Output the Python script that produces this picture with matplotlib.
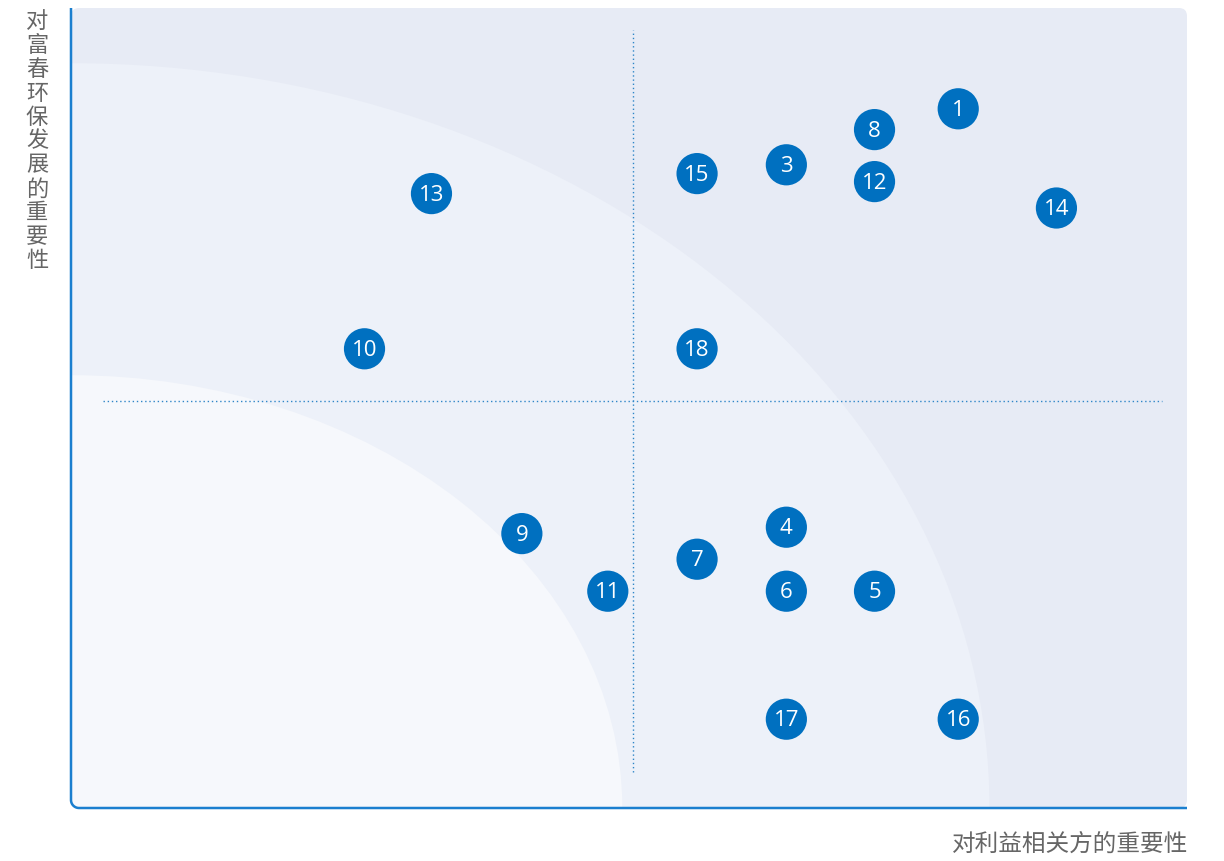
import numpy as np
import matplotlib.pyplot as plt
from matplotlib.patches import FancyBboxPatch, Ellipse

plt.rcParams['font.family'] = ['Noto Sans CJK SC', 'DejaVu Sans']

# issue numbers and their positions (0-100 scale)
labels = ['1', '8', '3', '12', '15', '14', '13', '10', '18',
          '9', '11', '7', '4', '6', '5', '17', '16']
x_vals = [79.5, 72.0, 64.1, 72.0, 56.1, 88.3, 32.3, 26.3, 56.1,
          40.4, 48.1, 56.1, 64.1, 64.1, 72.0, 64.1, 79.5]
y_vals = [87.4, 84.8, 80.4, 78.3, 79.3, 75.0, 76.8, 57.4, 57.4,
          34.3, 27.1, 31.1, 35.1, 27.1, 27.1, 11.1, 11.1]

ylabel = '对富春环保发展的重要性'
xlabel = '对利益相关方的重要性'

fig = plt.figure(figsize=(12.24, 8.61), dpi=100)
ax = fig.add_axes([71/1224, 53/861, 1116/1224, 800/861])
ax.set_xlim(0, 100)
ax.set_ylim(0, 100)
ax.axis('off')

# rounded background
rx = 0.72   # corner radius in x units (8 px)
asp = 1.0 / rx
bg = FancyBboxPatch((0, 0), 100, 100, boxstyle='round,pad=0,rounding_size=%.2f' % rx,
                    mutation_aspect=asp, facecolor='#e7ebf5', edgecolor='none', zorder=0)
ax.add_patch(bg)

# zones
outer = Ellipse((0, 0), 2*82.3, 2*93.1, facecolor='#edf1f9', edgecolor='none', zorder=1)
inner = Ellipse((0, 0), 2*49.4, 2*54.1, facecolor='#f6f8fc', edgecolor='none', zorder=2)
for p in (outer, inner):
    ax.add_patch(p)
    p.set_clip_path(bg)

# dotted quadrant lines
ax.plot([50.4, 50.4], [4.5, 97.3], ls=(0, (1, 2)), color='#2f86c8', lw=1, zorder=3)
ax.plot([2.9, 97.8], [50.9, 50.9], ls=(0, (1, 2)), color='#2f86c8', lw=1, zorder=3)

# left and bottom axis line with rounded corner
t = np.linspace(np.pi, 1.5*np.pi, 20)
ax_x = np.concatenate([[0], rx + rx*np.cos(t), [100]])
ax_y = np.concatenate([[100], 1.0 + 1.0*np.sin(t), [0]])
ax.plot(ax_x, ax_y, color='#1b7fcf', lw=1.8, zorder=4, clip_on=False,
        solid_capstyle='butt')

# bubbles
ax.scatter(x_vals, y_vals, s=880, color='#0070c0', edgecolors='none', zorder=5)
for lb, xv, yv in zip(labels, x_vals, y_vals):
    ax.text(xv, yv - 0.2, lb, color='white', fontsize=16, ha='center', va='center',
            family=['Open Sans', 'DejaVu Sans'], fontweight='normal', zorder=6)

fig.text(37/1224, 1 - 10/861, '\n'.join(ylabel), color='#666666', fontsize=16,
         ha='center', va='top', linespacing=1.05)
fig.text(1188/1224, 1 - 844/861, xlabel, color='#666666', fontsize=17,
         ha='right', va='center')

plt.savefig('out.png', dpi=100)
